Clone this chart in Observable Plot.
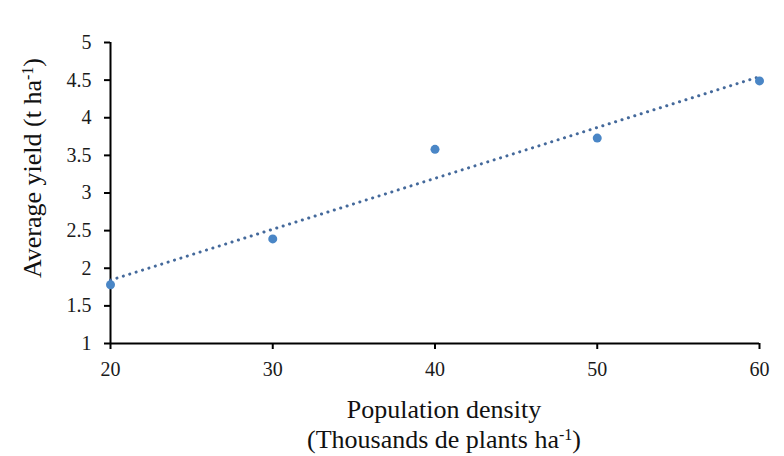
<!DOCTYPE html>
<html><head><meta charset="utf-8">
<script src="https://cdn.jsdelivr.net/npm/d3@7"></script>
<script src="https://cdn.jsdelivr.net/npm/@observablehq/plot@0.6"></script>
<style>body{margin:0;background:#fff}</style>
</head><body><div id="chart"></div>
<script>
const density = [20, 30, 40, 50, 60];
const yieldAvg = [1.78, 2.39, 3.58, 3.73, 4.49];
const xTicks = [20, 30, 40, 50, 60];
const yTicks = [1, 1.5, 2, 2.5, 3, 3.5, 4, 4.5, 5];
const data = density.map((d, i) => ({x: d, y: yieldAvg[i]}));
const font = "'Liberation Serif', 'Times New Roman', serif";

const chart = Plot.plot({
  width: 784, height: 456,
  marginLeft: 110, marginRight: 25, marginTop: 42, marginBottom: 113,
  style: {fontFamily: font, fontSize: "20px", color: "#1a1a1a", background: "#fff"},
  x: {domain: [20, 60], ticks: xTicks, tickSize: 6, tickPadding: 12, label: null, tickFormat: d => String(d)},
  y: {domain: [1, 5], ticks: yTicks, tickSize: 6, tickPadding: 13, label: null, tickFormat: d => String(d)},
  marks: [
    Plot.ruleX([20], {stroke: "#000", strokeWidth: 2}),
    Plot.ruleY([1], {stroke: "#000", strokeWidth: 2}),
    Plot.linearRegressionY(data, {x: "x", y: "y", ci: 0, stroke: "#44699b", strokeWidth: 3, strokeDasharray: "0.1,6.6", strokeLinecap: "round"}),
    Plot.dot(data, {x: "x", y: "y", r: 4.5, fill: "#4a86c6", stroke: "none"})
  ]
});
document.getElementById("chart").appendChild(chart);
const svg = d3.select(chart);
svg.selectAll("[aria-label='x-axis tick'], [aria-label='y-axis tick']").attr("stroke", "#000").attr("stroke-width", 2);

function label(x, y, rot, parts) {
  const t = svg.append("text").attr("transform", `translate(${x},${y}) rotate(${rot})`)
    .attr("text-anchor", "middle").attr("font-family", font).attr("font-size", 26).attr("fill", "#111");
  parts.forEach(([s, sup]) => {
    const ts = t.append("tspan").text(s);
    if (sup) ts.attr("font-size", 16).attr("baseline-shift", "super");
  });
}
label(444, 418, 0, [["Population density", false]]);
label(444, 448, 0, [["(Thousands de plants ha", false], ["-1", true], [")", false]]);
label(41, 168, -90, [["Average yield (t ha", false], ["-1", true], [")", false]]);
</script></body></html>
